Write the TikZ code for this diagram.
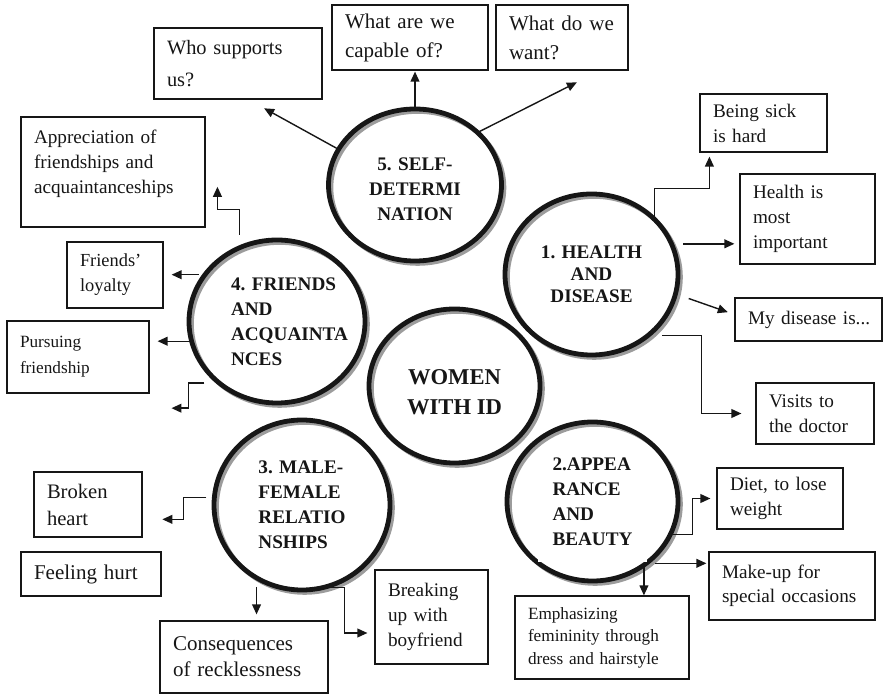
\documentclass[tikz,border=0pt]{standalone}
\usepackage{fontspec}
\setmainfont{Liberation Serif}
\usetikzlibrary{arrows.meta, shapes.geometric}
\definecolor{ink}  {HTML}{161616}
\definecolor{shade}{HTML}{9C9C9C}
\hyphenpenalty=10000

\begin{document}
\begin{tikzpicture}[
  x=0.5pt, y=-0.5pt,
  theme/.style={ellipse, draw=ink, line width=2.4pt, inner sep=0pt, outer sep=0pt,
                align=center, text=ink, font=\fontsize{9.6}{12.5}\selectfont\bfseries,
                preaction={draw=shade, line width=2.2pt,
                           transform canvas={xshift=1.3pt, yshift=-1.3pt}}},
  core/.style={theme, font=\fontsize{11.3}{15}\selectfont\bfseries},
  note/.style={draw=ink, line width=0.6pt, align=left, inner xsep=6.5pt, inner ysep=0pt,
               text=ink, font=\fontsize{9.6}{12.5}\selectfont},
  bignote/.style={note, font=\fontsize{10.5}{14}\selectfont},
  smallnote/.style={note, font=\fontsize{8.6}{11.3}\selectfont},
  arr/.style={-{Triangle[length=5pt, width=4.4pt]}, draw=ink, line width=0.7pt},
]
  \useasboundingbox (0,0) rectangle (883,694);

  % --- the core and the five themes ------------------------------
  \node[core, text height=28.5pt, minimum width=85.5pt, minimum height=77pt] (women)
    at (454.5,386) {WOMEN\\WITH ID};
  \node[theme, text height=36pt, minimum width=86.5pt, minimum height=76pt] (selfdet)
    at (415,185) {5. SELF-\\DETERMI\\NATION};
  \node[theme, minimum width=86.5pt, minimum height=80.5pt,
        font=\fontsize{9.6}{11}\selectfont\bfseries] (health) at (591.5,274.5)
    {1. HEALTH\\AND\\DISEASE};
  \node[theme, align=left, minimum width=85.5pt, minimum height=79.5pt] (beauty) at (592.5,501.5)
    {2.APPEA\\RANCE\\AND\\BEAUTY};
  \fill[white] (538,551) rectangle (647,562);
  \node[theme, align=left, minimum width=88pt, minimum height=85pt] (malefem) at (302,505)
    {3. MALE-\\FEMALE\\RELATIO\\NSHIPS};
  \node[theme, align=left, text width=46pt, minimum width=88pt, minimum height=81.5pt] (friends)
    at (277,321.5) {4.~FRIENDS\\AND\\ACQUAINTA\\NCES};

  % --- 5: self-determination -------------------------------------
  \node[bignote, text width=71pt, minimum height=35.5pt,
        font=\fontsize{10.2}{16}\selectfont] (who) at (238,63.5) {Who supports\\us?};
  \node[bignote, text width=65pt, minimum height=32.5pt,
        font=\fontsize{10.5}{14.5}\selectfont] (capable) at (410,37.5) {What are we\\capable of?};
  \node[bignote, text width=53pt, minimum height=32.5pt,
        font=\fontsize{10.5}{14.5}\selectfont] (want) at (562,37.5) {What~do~we\\want?};

  \draw[arr, shorten >=9pt] (selfdet.155) -- (who.-74);
  \draw[arr, shorten >=0.5pt] (selfdet.north) -- (selfdet.north |- capable.south);
  \draw[arr, shorten >=13pt] (selfdet.40) -- (want.-41.5);

  % --- 1: health and disease -------------------------------------
  \node[note, text width=50.5pt, minimum height=29pt] (sick) at (763.5,123)
    {Being sick\\is hard};
  \node[note, text width=54.5pt, minimum height=45pt] (hmost) at (807.5,219)
    {Health is\\most\\important};
  \node[note, text width=60.5pt, minimum height=21.5pt] (mydis) at (808.5,319.5)
    {My~disease~is...};
  \node[note, text width=46pt, minimum height=30.5pt] (visits) at (815,413.5)
    {Visits to\\the doctor};

  \draw[arr, shorten >=2pt] (health.41) -- ++(0,-31) -| ([xshift=5pt]sick.south west);
  \draw[arr, shorten <=6pt, shorten >=2.5pt] (health.21) -- (health.21 -| hmost.west);
  \draw[arr, shorten <=7pt, shorten >=3.5pt] (health.-13) -- ([yshift=2.5pt]mydis.west);
  \draw[arr, shorten >=7pt] (health.-47) ++(14,0) -- ++(39,0) |- (visits.west);

  % --- 2: appearance and beauty ----------------------------------
  \node[note, text width=50pt, minimum height=30.5pt] (diet) at (780,498.5)
    {Diet, to lose\\weight};
  \node[note, text width=70pt, minimum height=34pt,
        font=\fontsize{9.6}{12}\selectfont] (makeup) at (792,586)
    {Make-up for\\special occasions};
  \node[smallnote, text width=74pt, minimum height=41.5pt] (femin) at (602,637.5)
    {Emphasizing\\femininity through\\dress and hairstyle};

  \draw[arr, shorten >=3pt] (beauty.-23) -- ++(22,0) |- (diet.west);
  \draw[arr, shorten <=4.5pt, shorten >=1pt] (beauty.-49) -- (beauty.-49 -| makeup.west);
  \draw[arr] (beauty.-51) -- (beauty.-51 |- femin.north);

  % --- 3: male-female relationships ------------------------------
  \node[bignote, text width=41pt, minimum height=32.5pt,
        font=\fontsize{10.3}{13.5}\selectfont] (broken) at (88,504.5) {Broken\\heart};
  \node[bignote, text width=57pt, minimum height=22pt] (hurt) at (91,574) {Feeling hurt};
  \node[bignote, text width=71pt, minimum height=36pt,
        font=\fontsize{10.5}{13}\selectfont] (conseq) at (244,657)
    {Consequences\\of recklessness};
  \node[note, text width=43.5pt, minimum height=47pt] (breakup) at (431.5,617)
    {Breaking\\up with\\boyfriend};

  \draw[arr] (malefem.175) ++(-8,0) -- ++(-23,0) |- ++(-21,22);
  \draw[arr, shorten <=4.5pt, shorten >=3pt] (malefem.238) -- (malefem.238 |- conseq.north);
  \draw[arr, shorten >=3.5pt] (malefem.-76) -- ++(22,0) |- ([yshift=-8pt]breakup.west);

  % --- 4: friends and acquaintances ------------------------------
  \node[note, text width=79pt, minimum height=55pt] (apprec) at (113,172)
    {Appreciation of\\friendships and\\acquaintanceships\\[-6pt]\strut};
  \node[note, text width=35pt, minimum height=33pt,
        font=\fontsize{9.2}{12.5}\selectfont] (loyal) at (115,275) {Friends'\\loyalty};
  \node[smallnote, text width=58pt, minimum height=36pt,
        font=\fontsize{8.6}{13}\selectfont] (pursue) at (78,357) {Pursuing\\friendship};

  \draw[arr] (friends.117) ++(0,-13) -- ++(0,-25) -- ++(-22,0) -- ++(0,-23);
  \draw[arr, shorten <=3pt, shorten >=4pt] (friends.147) -- (friends.147 -| loyal.east);
  \draw[arr, shorten >=4pt] (friends.193) -- (friends.193 -| pursue.east);
  \draw[arr] (friends.227) ++(-15,0) -- ++(-16,0) |- ++(-17,25);
\end{tikzpicture}
\end{document}
